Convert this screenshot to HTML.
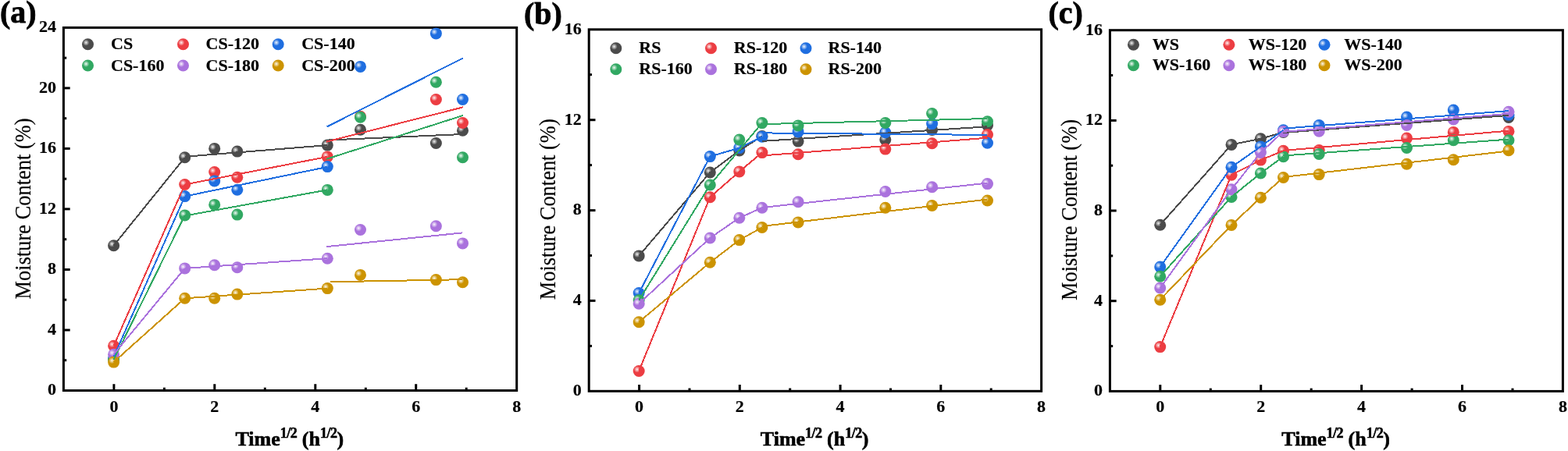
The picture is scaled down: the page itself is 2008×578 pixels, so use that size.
<!DOCTYPE html><html><head><meta charset="utf-8"><style>html,body{margin:0;padding:0;background:#fff;width:2008px;height:578px;overflow:hidden}svg{display:block}.tk{font-family:"Liberation Serif","Times New Roman",serif;font-weight:bold;font-size:22px;fill:#000;stroke:#000;stroke-width:0.2px}.lg{font-family:"Liberation Serif","Times New Roman",serif;font-weight:bold;font-size:22px;fill:#000;stroke:#000;stroke-width:0.2px}.yt{font-family:"Liberation Serif","Times New Roman",serif;font-size:28.5px;fill:#000;stroke:#000;stroke-width:0.15px}.xt{font-family:"Liberation Serif","Times New Roman",serif;font-weight:bold;font-size:26px;fill:#000;stroke:#000;stroke-width:0.6px}.pl{font-family:"Liberation Serif","Times New Roman",serif;font-weight:bold;font-size:40px;fill:#000;stroke:#000;stroke-width:0.8px}</style></head><body>
<svg width="2008" height="578" viewBox="0 0 2008 578">
<defs><radialGradient id="hl" cx="0.5" cy="0.5" r="0.5"><stop offset="0" stop-color="#fff" stop-opacity="0.95"/><stop offset="0.35" stop-color="#fff" stop-opacity="0.6"/><stop offset="1" stop-color="#fff" stop-opacity="0"/></radialGradient></defs>
<rect width="2008" height="578" fill="#fff"/>
<rect x="81.4" y="35.4" width="580.3" height="465.1" fill="none" stroke="#000" stroke-width="3"/>
<line x1="145.9" y1="500.5" x2="145.9" y2="492.2" stroke="#000" stroke-width="3"/>
<line x1="210.4" y1="500.5" x2="210.4" y2="496.7" stroke="#000" stroke-width="3"/>
<line x1="274.8" y1="500.5" x2="274.8" y2="492.2" stroke="#000" stroke-width="3"/>
<line x1="339.3" y1="500.5" x2="339.3" y2="496.7" stroke="#000" stroke-width="3"/>
<line x1="403.8" y1="500.5" x2="403.8" y2="492.2" stroke="#000" stroke-width="3"/>
<line x1="468.3" y1="500.5" x2="468.3" y2="496.7" stroke="#000" stroke-width="3"/>
<line x1="532.7" y1="500.5" x2="532.7" y2="492.2" stroke="#000" stroke-width="3"/>
<line x1="597.2" y1="500.5" x2="597.2" y2="496.7" stroke="#000" stroke-width="3"/>
<line x1="81.4" y1="461.7" x2="85.2" y2="461.7" stroke="#000" stroke-width="3"/>
<line x1="81.4" y1="423" x2="89.7" y2="423" stroke="#000" stroke-width="3"/>
<line x1="81.4" y1="384.2" x2="85.2" y2="384.2" stroke="#000" stroke-width="3"/>
<line x1="81.4" y1="345.5" x2="89.7" y2="345.5" stroke="#000" stroke-width="3"/>
<line x1="81.4" y1="306.7" x2="85.2" y2="306.7" stroke="#000" stroke-width="3"/>
<line x1="81.4" y1="267.9" x2="89.7" y2="267.9" stroke="#000" stroke-width="3"/>
<line x1="81.4" y1="229.2" x2="85.2" y2="229.2" stroke="#000" stroke-width="3"/>
<line x1="81.4" y1="190.4" x2="89.7" y2="190.4" stroke="#000" stroke-width="3"/>
<line x1="81.4" y1="151.7" x2="85.2" y2="151.7" stroke="#000" stroke-width="3"/>
<line x1="81.4" y1="112.9" x2="89.7" y2="112.9" stroke="#000" stroke-width="3"/>
<line x1="81.4" y1="74.2" x2="85.2" y2="74.2" stroke="#000" stroke-width="3"/>
<text x="145.9" y="528" text-anchor="middle" class="tk">0</text>
<text x="274.8" y="528" text-anchor="middle" class="tk">2</text>
<text x="403.8" y="528" text-anchor="middle" class="tk">4</text>
<text x="532.7" y="528" text-anchor="middle" class="tk">6</text>
<text x="661.7" y="528" text-anchor="middle" class="tk">8</text>
<text x="71.9" y="506.4" text-anchor="end" class="tk">0</text>
<text x="71.9" y="428.9" text-anchor="end" class="tk">4</text>
<text x="71.9" y="351.4" text-anchor="end" class="tk">8</text>
<text x="71.9" y="273.8" text-anchor="end" class="tk">12</text>
<text x="71.9" y="196.3" text-anchor="end" class="tk">16</text>
<text x="71.9" y="118.8" text-anchor="end" class="tk">20</text>
<text x="71.9" y="41.3" text-anchor="end" class="tk">24</text>
<circle cx="145.6" cy="314.7" r="7.5" fill="#4b4b4b"/><circle cx="143.3" cy="312.6" r="4.2" fill="url(#hl)"/>
<circle cx="236.7" cy="201.8" r="7.5" fill="#4b4b4b"/><circle cx="234.4" cy="199.7" r="4.2" fill="url(#hl)"/>
<circle cx="274.7" cy="190.4" r="7.5" fill="#4b4b4b"/><circle cx="272.4" cy="188.3" r="4.2" fill="url(#hl)"/>
<circle cx="303.8" cy="194.1" r="7.5" fill="#4b4b4b"/><circle cx="301.5" cy="192" r="4.2" fill="url(#hl)"/>
<circle cx="419.3" cy="186.1" r="7.5" fill="#4b4b4b"/><circle cx="417" cy="184" r="4.2" fill="url(#hl)"/>
<circle cx="461.5" cy="166.2" r="7.5" fill="#4b4b4b"/><circle cx="459.2" cy="164.1" r="4.2" fill="url(#hl)"/>
<circle cx="558.4" cy="183.5" r="7.5" fill="#4b4b4b"/><circle cx="556.1" cy="181.4" r="4.2" fill="url(#hl)"/>
<circle cx="592.5" cy="167.2" r="7.5" fill="#4b4b4b"/><circle cx="590.2" cy="165.1" r="4.2" fill="url(#hl)"/>
<circle cx="145.6" cy="443.3" r="7.5" fill="#ec3d42"/><circle cx="143.3" cy="441.2" r="4.2" fill="url(#hl)"/>
<circle cx="236.7" cy="236.5" r="7.5" fill="#ec3d42"/><circle cx="234.4" cy="234.4" r="4.2" fill="url(#hl)"/>
<circle cx="274.7" cy="220.5" r="7.5" fill="#ec3d42"/><circle cx="272.4" cy="218.4" r="4.2" fill="url(#hl)"/>
<circle cx="303.8" cy="227.3" r="7.5" fill="#ec3d42"/><circle cx="301.5" cy="225.2" r="4.2" fill="url(#hl)"/>
<circle cx="419.3" cy="200.9" r="7.5" fill="#ec3d42"/><circle cx="417" cy="198.8" r="4.2" fill="url(#hl)"/>
<circle cx="461.5" cy="149.3" r="7.5" fill="#ec3d42"/><circle cx="459.2" cy="147.2" r="4.2" fill="url(#hl)"/>
<circle cx="558.4" cy="127.5" r="7.5" fill="#ec3d42"/><circle cx="556.1" cy="125.4" r="4.2" fill="url(#hl)"/>
<circle cx="592.5" cy="157.5" r="7.5" fill="#ec3d42"/><circle cx="590.2" cy="155.4" r="4.2" fill="url(#hl)"/>
<circle cx="145.6" cy="459.5" r="7.5" fill="#1f6ee0"/><circle cx="143.3" cy="457.4" r="4.2" fill="url(#hl)"/>
<circle cx="236.7" cy="251.6" r="7.5" fill="#1f6ee0"/><circle cx="234.4" cy="249.5" r="4.2" fill="url(#hl)"/>
<circle cx="274.7" cy="231.9" r="7.5" fill="#1f6ee0"/><circle cx="272.4" cy="229.8" r="4.2" fill="url(#hl)"/>
<circle cx="303.8" cy="243.3" r="7.5" fill="#1f6ee0"/><circle cx="301.5" cy="241.2" r="4.2" fill="url(#hl)"/>
<circle cx="419.3" cy="213.6" r="7.5" fill="#1f6ee0"/><circle cx="417" cy="211.5" r="4.2" fill="url(#hl)"/>
<circle cx="461.5" cy="85.4" r="7.5" fill="#1f6ee0"/><circle cx="459.2" cy="83.3" r="4.2" fill="url(#hl)"/>
<circle cx="558.4" cy="42.9" r="7.5" fill="#1f6ee0"/><circle cx="556.1" cy="40.8" r="4.2" fill="url(#hl)"/>
<circle cx="592.5" cy="127.5" r="7.5" fill="#1f6ee0"/><circle cx="590.2" cy="125.4" r="4.2" fill="url(#hl)"/>
<circle cx="145.6" cy="461" r="7.5" fill="#31a862"/><circle cx="143.3" cy="458.9" r="4.2" fill="url(#hl)"/>
<circle cx="236.7" cy="275.9" r="7.5" fill="#31a862"/><circle cx="234.4" cy="273.8" r="4.2" fill="url(#hl)"/>
<circle cx="274.7" cy="262.4" r="7.5" fill="#31a862"/><circle cx="272.4" cy="260.3" r="4.2" fill="url(#hl)"/>
<circle cx="303.8" cy="275.1" r="7.5" fill="#31a862"/><circle cx="301.5" cy="273" r="4.2" fill="url(#hl)"/>
<circle cx="419.3" cy="243.4" r="7.5" fill="#31a862"/><circle cx="417" cy="241.3" r="4.2" fill="url(#hl)"/>
<circle cx="461.5" cy="150.2" r="7.5" fill="#31a862"/><circle cx="459.2" cy="148.1" r="4.2" fill="url(#hl)"/>
<circle cx="558.4" cy="105.3" r="7.5" fill="#31a862"/><circle cx="556.1" cy="103.2" r="4.2" fill="url(#hl)"/>
<circle cx="592.5" cy="201.7" r="7.5" fill="#31a862"/><circle cx="590.2" cy="199.6" r="4.2" fill="url(#hl)"/>
<circle cx="145.6" cy="454.2" r="7.5" fill="#aa72dd"/><circle cx="143.3" cy="452.1" r="4.2" fill="url(#hl)"/>
<circle cx="236.7" cy="343.9" r="7.5" fill="#aa72dd"/><circle cx="234.4" cy="341.8" r="4.2" fill="url(#hl)"/>
<circle cx="274.7" cy="339.7" r="7.5" fill="#aa72dd"/><circle cx="272.4" cy="337.6" r="4.2" fill="url(#hl)"/>
<circle cx="303.8" cy="342.8" r="7.5" fill="#aa72dd"/><circle cx="301.5" cy="340.7" r="4.2" fill="url(#hl)"/>
<circle cx="419.3" cy="331.2" r="7.5" fill="#aa72dd"/><circle cx="417" cy="329.1" r="4.2" fill="url(#hl)"/>
<circle cx="461.5" cy="294.5" r="7.5" fill="#aa72dd"/><circle cx="459.2" cy="292.4" r="4.2" fill="url(#hl)"/>
<circle cx="558.4" cy="289.7" r="7.5" fill="#aa72dd"/><circle cx="556.1" cy="287.6" r="4.2" fill="url(#hl)"/>
<circle cx="592.5" cy="311.9" r="7.5" fill="#aa72dd"/><circle cx="590.2" cy="309.8" r="4.2" fill="url(#hl)"/>
<circle cx="145.6" cy="464.1" r="7.5" fill="#cc9300"/><circle cx="143.3" cy="462" r="4.2" fill="url(#hl)"/>
<circle cx="236.7" cy="382.3" r="7.5" fill="#cc9300"/><circle cx="234.4" cy="380.2" r="4.2" fill="url(#hl)"/>
<circle cx="274.7" cy="382.3" r="7.5" fill="#cc9300"/><circle cx="272.4" cy="380.2" r="4.2" fill="url(#hl)"/>
<circle cx="303.8" cy="377.1" r="7.5" fill="#cc9300"/><circle cx="301.5" cy="375" r="4.2" fill="url(#hl)"/>
<circle cx="419.3" cy="369.6" r="7.5" fill="#cc9300"/><circle cx="417" cy="367.5" r="4.2" fill="url(#hl)"/>
<circle cx="461.5" cy="352.4" r="7.5" fill="#cc9300"/><circle cx="459.2" cy="350.3" r="4.2" fill="url(#hl)"/>
<circle cx="558.4" cy="358.6" r="7.5" fill="#cc9300"/><circle cx="556.1" cy="356.5" r="4.2" fill="url(#hl)"/>
<circle cx="592.5" cy="361.8" r="7.5" fill="#cc9300"/><circle cx="590.2" cy="359.7" r="4.2" fill="url(#hl)"/>
<polyline points="145.6,314.7 236.7,201.8" fill="none" stroke="#4b4b4b" stroke-width="2.0" stroke-linejoin="round" stroke-linecap="butt" shape-rendering="crispEdges"/>
<polyline points="236.7,200.8 419.2,186.1" fill="none" stroke="#4b4b4b" stroke-width="2.0" stroke-linejoin="round" stroke-linecap="butt" shape-rendering="crispEdges"/>
<polyline points="419.2,179.6 592.8,172" fill="none" stroke="#4b4b4b" stroke-width="2.0" stroke-linejoin="round" stroke-linecap="butt" shape-rendering="crispEdges"/>
<polyline points="145.6,443.3 236.7,236.5" fill="none" stroke="#ec3d42" stroke-width="2.0" stroke-linejoin="round" stroke-linecap="butt" shape-rendering="crispEdges"/>
<polyline points="236.7,236.5 419.2,200.9" fill="none" stroke="#ec3d42" stroke-width="2.0" stroke-linejoin="round" stroke-linecap="butt" shape-rendering="crispEdges"/>
<polyline points="418.2,181.6 592.8,137.4" fill="none" stroke="#ec3d42" stroke-width="2.0" stroke-linejoin="round" stroke-linecap="butt" shape-rendering="crispEdges"/>
<polyline points="145.6,457.5 236.7,251.6" fill="none" stroke="#1f6ee0" stroke-width="2.0" stroke-linejoin="round" stroke-linecap="butt" shape-rendering="crispEdges"/>
<polyline points="236.7,251.6 419.2,213.9" fill="none" stroke="#1f6ee0" stroke-width="2.0" stroke-linejoin="round" stroke-linecap="butt" shape-rendering="crispEdges"/>
<polyline points="418.7,162.4 592.8,74.5" fill="none" stroke="#1f6ee0" stroke-width="2.0" stroke-linejoin="round" stroke-linecap="butt" shape-rendering="crispEdges"/>
<polyline points="145.6,461 236.7,275.9" fill="none" stroke="#31a862" stroke-width="2.0" stroke-linejoin="round" stroke-linecap="butt" shape-rendering="crispEdges"/>
<polyline points="236.7,276.5 419.2,243.4" fill="none" stroke="#31a862" stroke-width="2.0" stroke-linejoin="round" stroke-linecap="butt" shape-rendering="crispEdges"/>
<polyline points="418.2,203.8 592.8,148" fill="none" stroke="#31a862" stroke-width="2.0" stroke-linejoin="round" stroke-linecap="butt" shape-rendering="crispEdges"/>
<polyline points="145.6,454.2 236.7,343.9" fill="none" stroke="#aa72dd" stroke-width="2.0" stroke-linejoin="round" stroke-linecap="butt" shape-rendering="crispEdges"/>
<polyline points="236.7,343.9 419.4,331.2" fill="none" stroke="#aa72dd" stroke-width="2.0" stroke-linejoin="round" stroke-linecap="butt" shape-rendering="crispEdges"/>
<polyline points="418.4,316.1 592.2,298.4" fill="none" stroke="#aa72dd" stroke-width="2.0" stroke-linejoin="round" stroke-linecap="butt" shape-rendering="crispEdges"/>
<polyline points="145.6,464.1 236.7,382.3" fill="none" stroke="#cc9300" stroke-width="2.0" stroke-linejoin="round" stroke-linecap="butt" shape-rendering="crispEdges"/>
<polyline points="236.7,382.3 419.4,369.6" fill="none" stroke="#cc9300" stroke-width="2.0" stroke-linejoin="round" stroke-linecap="butt" shape-rendering="crispEdges"/>
<polyline points="422.6,361.3 592.2,358.2" fill="none" stroke="#cc9300" stroke-width="2.0" stroke-linejoin="round" stroke-linecap="butt" shape-rendering="crispEdges"/>
<rect x="754.2" y="37.8" width="579.4" height="463.5" fill="none" stroke="#000" stroke-width="3"/>
<line x1="818.6" y1="501.3" x2="818.6" y2="493" stroke="#000" stroke-width="3"/>
<line x1="883" y1="501.3" x2="883" y2="497.5" stroke="#000" stroke-width="3"/>
<line x1="947.3" y1="501.3" x2="947.3" y2="493" stroke="#000" stroke-width="3"/>
<line x1="1011.7" y1="501.3" x2="1011.7" y2="497.5" stroke="#000" stroke-width="3"/>
<line x1="1076.1" y1="501.3" x2="1076.1" y2="493" stroke="#000" stroke-width="3"/>
<line x1="1140.5" y1="501.3" x2="1140.5" y2="497.5" stroke="#000" stroke-width="3"/>
<line x1="1204.8" y1="501.3" x2="1204.8" y2="493" stroke="#000" stroke-width="3"/>
<line x1="1269.2" y1="501.3" x2="1269.2" y2="497.5" stroke="#000" stroke-width="3"/>
<line x1="754.2" y1="443.4" x2="758" y2="443.4" stroke="#000" stroke-width="3"/>
<line x1="754.2" y1="385.4" x2="762.5" y2="385.4" stroke="#000" stroke-width="3"/>
<line x1="754.2" y1="327.5" x2="758" y2="327.5" stroke="#000" stroke-width="3"/>
<line x1="754.2" y1="269.6" x2="762.5" y2="269.6" stroke="#000" stroke-width="3"/>
<line x1="754.2" y1="211.6" x2="758" y2="211.6" stroke="#000" stroke-width="3"/>
<line x1="754.2" y1="153.7" x2="762.5" y2="153.7" stroke="#000" stroke-width="3"/>
<line x1="754.2" y1="95.7" x2="758" y2="95.7" stroke="#000" stroke-width="3"/>
<text x="818.6" y="528" text-anchor="middle" class="tk">0</text>
<text x="947.3" y="528" text-anchor="middle" class="tk">2</text>
<text x="1076.1" y="528" text-anchor="middle" class="tk">4</text>
<text x="1204.8" y="528" text-anchor="middle" class="tk">6</text>
<text x="1333.6" y="528" text-anchor="middle" class="tk">8</text>
<text x="744.7" y="507.2" text-anchor="end" class="tk">0</text>
<text x="744.7" y="391.3" text-anchor="end" class="tk">4</text>
<text x="744.7" y="275.4" text-anchor="end" class="tk">8</text>
<text x="744.7" y="159.6" text-anchor="end" class="tk">12</text>
<text x="744.7" y="43.7" text-anchor="end" class="tk">16</text>
<circle cx="818.2" cy="327.9" r="7.5" fill="#4b4b4b"/><circle cx="815.9" cy="325.8" r="4.2" fill="url(#hl)"/>
<circle cx="909.3" cy="221" r="7.5" fill="#4b4b4b"/><circle cx="907" cy="218.9" r="4.2" fill="url(#hl)"/>
<circle cx="946.8" cy="193" r="7.5" fill="#4b4b4b"/><circle cx="944.5" cy="190.9" r="4.2" fill="url(#hl)"/>
<circle cx="975.9" cy="174.5" r="7.5" fill="#4b4b4b"/><circle cx="973.6" cy="172.4" r="4.2" fill="url(#hl)"/>
<circle cx="1022.1" cy="181.1" r="7.5" fill="#4b4b4b"/><circle cx="1019.8" cy="179" r="4.2" fill="url(#hl)"/>
<circle cx="1133.8" cy="179" r="7.5" fill="#4b4b4b"/><circle cx="1131.5" cy="176.9" r="4.2" fill="url(#hl)"/>
<circle cx="1193.6" cy="166.4" r="7.5" fill="#4b4b4b"/><circle cx="1191.3" cy="164.3" r="4.2" fill="url(#hl)"/>
<circle cx="1264.5" cy="160.6" r="7.5" fill="#4b4b4b"/><circle cx="1262.2" cy="158.5" r="4.2" fill="url(#hl)"/>
<circle cx="818.2" cy="475.5" r="7.5" fill="#ec3d42"/><circle cx="815.9" cy="473.4" r="4.2" fill="url(#hl)"/>
<circle cx="909.3" cy="252.7" r="7.5" fill="#ec3d42"/><circle cx="907" cy="250.6" r="4.2" fill="url(#hl)"/>
<circle cx="946.8" cy="219.9" r="7.5" fill="#ec3d42"/><circle cx="944.5" cy="217.8" r="4.2" fill="url(#hl)"/>
<circle cx="975.9" cy="195.6" r="7.5" fill="#ec3d42"/><circle cx="973.6" cy="193.5" r="4.2" fill="url(#hl)"/>
<circle cx="1022.1" cy="197.7" r="7.5" fill="#ec3d42"/><circle cx="1019.8" cy="195.6" r="4.2" fill="url(#hl)"/>
<circle cx="1133.8" cy="191.1" r="7.5" fill="#ec3d42"/><circle cx="1131.5" cy="189" r="4.2" fill="url(#hl)"/>
<circle cx="1193.6" cy="183.8" r="7.5" fill="#ec3d42"/><circle cx="1191.3" cy="181.7" r="4.2" fill="url(#hl)"/>
<circle cx="1264.5" cy="172.6" r="7.5" fill="#ec3d42"/><circle cx="1262.2" cy="170.5" r="4.2" fill="url(#hl)"/>
<circle cx="818.2" cy="375.6" r="7.5" fill="#1f6ee0"/><circle cx="815.9" cy="373.5" r="4.2" fill="url(#hl)"/>
<circle cx="909.3" cy="200.6" r="7.5" fill="#1f6ee0"/><circle cx="907" cy="198.5" r="4.2" fill="url(#hl)"/>
<circle cx="946.8" cy="189.6" r="7.5" fill="#1f6ee0"/><circle cx="944.5" cy="187.5" r="4.2" fill="url(#hl)"/>
<circle cx="975.9" cy="175.3" r="7.5" fill="#1f6ee0"/><circle cx="973.6" cy="173.2" r="4.2" fill="url(#hl)"/>
<circle cx="1022.1" cy="168.9" r="7.5" fill="#1f6ee0"/><circle cx="1019.8" cy="166.8" r="4.2" fill="url(#hl)"/>
<circle cx="1133.8" cy="169.8" r="7.5" fill="#1f6ee0"/><circle cx="1131.5" cy="167.7" r="4.2" fill="url(#hl)"/>
<circle cx="1193.6" cy="158.6" r="7.5" fill="#1f6ee0"/><circle cx="1191.3" cy="156.5" r="4.2" fill="url(#hl)"/>
<circle cx="1264.5" cy="183.3" r="7.5" fill="#1f6ee0"/><circle cx="1262.2" cy="181.2" r="4.2" fill="url(#hl)"/>
<circle cx="818.2" cy="384.8" r="7.5" fill="#31a862"/><circle cx="815.9" cy="382.7" r="4.2" fill="url(#hl)"/>
<circle cx="909.3" cy="237" r="7.5" fill="#31a862"/><circle cx="907" cy="234.9" r="4.2" fill="url(#hl)"/>
<circle cx="946.8" cy="179" r="7.5" fill="#31a862"/><circle cx="944.5" cy="176.9" r="4.2" fill="url(#hl)"/>
<circle cx="975.9" cy="157.6" r="7.5" fill="#31a862"/><circle cx="973.6" cy="155.5" r="4.2" fill="url(#hl)"/>
<circle cx="1022.1" cy="160.9" r="7.5" fill="#31a862"/><circle cx="1019.8" cy="158.8" r="4.2" fill="url(#hl)"/>
<circle cx="1133.8" cy="157.5" r="7.5" fill="#31a862"/><circle cx="1131.5" cy="155.4" r="4.2" fill="url(#hl)"/>
<circle cx="1193.6" cy="145.5" r="7.5" fill="#31a862"/><circle cx="1191.3" cy="143.4" r="4.2" fill="url(#hl)"/>
<circle cx="1264.5" cy="155.7" r="7.5" fill="#31a862"/><circle cx="1262.2" cy="153.6" r="4.2" fill="url(#hl)"/>
<circle cx="818.2" cy="389.2" r="7.5" fill="#aa72dd"/><circle cx="815.9" cy="387.1" r="4.2" fill="url(#hl)"/>
<circle cx="909.3" cy="305" r="7.5" fill="#aa72dd"/><circle cx="907" cy="302.9" r="4.2" fill="url(#hl)"/>
<circle cx="946.8" cy="279.2" r="7.5" fill="#aa72dd"/><circle cx="944.5" cy="277.1" r="4.2" fill="url(#hl)"/>
<circle cx="975.9" cy="266.2" r="7.5" fill="#aa72dd"/><circle cx="973.6" cy="264.1" r="4.2" fill="url(#hl)"/>
<circle cx="1022.1" cy="258.8" r="7.5" fill="#aa72dd"/><circle cx="1019.8" cy="256.7" r="4.2" fill="url(#hl)"/>
<circle cx="1133.8" cy="245.5" r="7.5" fill="#aa72dd"/><circle cx="1131.5" cy="243.4" r="4.2" fill="url(#hl)"/>
<circle cx="1193.6" cy="239.7" r="7.5" fill="#aa72dd"/><circle cx="1191.3" cy="237.6" r="4.2" fill="url(#hl)"/>
<circle cx="1264.5" cy="235.6" r="7.5" fill="#aa72dd"/><circle cx="1262.2" cy="233.5" r="4.2" fill="url(#hl)"/>
<circle cx="818.2" cy="412.7" r="7.5" fill="#cc9300"/><circle cx="815.9" cy="410.6" r="4.2" fill="url(#hl)"/>
<circle cx="909.3" cy="336.3" r="7.5" fill="#cc9300"/><circle cx="907" cy="334.2" r="4.2" fill="url(#hl)"/>
<circle cx="946.8" cy="307.6" r="7.5" fill="#cc9300"/><circle cx="944.5" cy="305.5" r="4.2" fill="url(#hl)"/>
<circle cx="975.9" cy="291.5" r="7.5" fill="#cc9300"/><circle cx="973.6" cy="289.4" r="4.2" fill="url(#hl)"/>
<circle cx="1022.1" cy="284.9" r="7.5" fill="#cc9300"/><circle cx="1019.8" cy="282.8" r="4.2" fill="url(#hl)"/>
<circle cx="1133.8" cy="266.3" r="7.5" fill="#cc9300"/><circle cx="1131.5" cy="264.2" r="4.2" fill="url(#hl)"/>
<circle cx="1193.6" cy="263.5" r="7.5" fill="#cc9300"/><circle cx="1191.3" cy="261.4" r="4.2" fill="url(#hl)"/>
<circle cx="1264.5" cy="257" r="7.5" fill="#cc9300"/><circle cx="1262.2" cy="254.9" r="4.2" fill="url(#hl)"/>
<polyline points="818.2,327.9 909.3,221 946.8,193 975.9,174.5" fill="none" stroke="#4b4b4b" stroke-width="2.0" stroke-linejoin="round" stroke-linecap="butt" shape-rendering="crispEdges"/>
<polyline points="975.9,180.9 1264.5,162.3" fill="none" stroke="#4b4b4b" stroke-width="2.0" stroke-linejoin="round" stroke-linecap="butt" shape-rendering="crispEdges"/>
<polyline points="818.2,475.5 909.3,252.7 946.8,219.9 975.9,195.6" fill="none" stroke="#ec3d42" stroke-width="2.0" stroke-linejoin="round" stroke-linecap="butt" shape-rendering="crispEdges"/>
<polyline points="975.9,199.5 1264.5,176.7" fill="none" stroke="#ec3d42" stroke-width="2.0" stroke-linejoin="round" stroke-linecap="butt" shape-rendering="crispEdges"/>
<polyline points="818.2,375.6 909.3,200.6 946.8,189.6 975.9,175.3" fill="none" stroke="#1f6ee0" stroke-width="2.0" stroke-linejoin="round" stroke-linecap="butt" shape-rendering="crispEdges"/>
<polyline points="975.9,170.4 1264.5,172.9" fill="none" stroke="#1f6ee0" stroke-width="2.0" stroke-linejoin="round" stroke-linecap="butt" shape-rendering="crispEdges"/>
<polyline points="818.2,384.8 909.3,237 975.9,157.6" fill="none" stroke="#31a862" stroke-width="2.0" stroke-linejoin="round" stroke-linecap="butt" shape-rendering="crispEdges"/>
<polyline points="975.9,159.1 1264.5,152" fill="none" stroke="#31a862" stroke-width="2.0" stroke-linejoin="round" stroke-linecap="butt" shape-rendering="crispEdges"/>
<polyline points="818.2,389.2 909.3,305 946.8,279.2 975.9,266.2" fill="none" stroke="#aa72dd" stroke-width="2.0" stroke-linejoin="round" stroke-linecap="butt" shape-rendering="crispEdges"/>
<polyline points="975.9,266 1264.5,234.6" fill="none" stroke="#aa72dd" stroke-width="2.0" stroke-linejoin="round" stroke-linecap="butt" shape-rendering="crispEdges"/>
<polyline points="818.2,412.7 909.3,336.3 946.8,307.6 975.9,291.5" fill="none" stroke="#cc9300" stroke-width="2.0" stroke-linejoin="round" stroke-linecap="butt" shape-rendering="crispEdges"/>
<polyline points="975.9,290 1264.5,255.5" fill="none" stroke="#cc9300" stroke-width="2.0" stroke-linejoin="round" stroke-linecap="butt" shape-rendering="crispEdges"/>
<rect x="1421.4" y="38.7" width="580" height="462.7" fill="none" stroke="#000" stroke-width="3"/>
<line x1="1485.8" y1="501.4" x2="1485.8" y2="493.1" stroke="#000" stroke-width="3"/>
<line x1="1550.3" y1="501.4" x2="1550.3" y2="497.6" stroke="#000" stroke-width="3"/>
<line x1="1614.7" y1="501.4" x2="1614.7" y2="493.1" stroke="#000" stroke-width="3"/>
<line x1="1679.2" y1="501.4" x2="1679.2" y2="497.6" stroke="#000" stroke-width="3"/>
<line x1="1743.6" y1="501.4" x2="1743.6" y2="493.1" stroke="#000" stroke-width="3"/>
<line x1="1808.1" y1="501.4" x2="1808.1" y2="497.6" stroke="#000" stroke-width="3"/>
<line x1="1872.5" y1="501.4" x2="1872.5" y2="493.1" stroke="#000" stroke-width="3"/>
<line x1="1937" y1="501.4" x2="1937" y2="497.6" stroke="#000" stroke-width="3"/>
<line x1="1421.4" y1="443.6" x2="1425.2" y2="443.6" stroke="#000" stroke-width="3"/>
<line x1="1421.4" y1="385.7" x2="1429.7" y2="385.7" stroke="#000" stroke-width="3"/>
<line x1="1421.4" y1="327.9" x2="1425.2" y2="327.9" stroke="#000" stroke-width="3"/>
<line x1="1421.4" y1="270" x2="1429.7" y2="270" stroke="#000" stroke-width="3"/>
<line x1="1421.4" y1="212.2" x2="1425.2" y2="212.2" stroke="#000" stroke-width="3"/>
<line x1="1421.4" y1="154.4" x2="1429.7" y2="154.4" stroke="#000" stroke-width="3"/>
<line x1="1421.4" y1="96.5" x2="1425.2" y2="96.5" stroke="#000" stroke-width="3"/>
<text x="1485.8" y="528" text-anchor="middle" class="tk">0</text>
<text x="1614.7" y="528" text-anchor="middle" class="tk">2</text>
<text x="1743.6" y="528" text-anchor="middle" class="tk">4</text>
<text x="1872.5" y="528" text-anchor="middle" class="tk">6</text>
<text x="2001.4" y="528" text-anchor="middle" class="tk">8</text>
<text x="1411.9" y="507.3" text-anchor="end" class="tk">0</text>
<text x="1411.9" y="391.6" text-anchor="end" class="tk">4</text>
<text x="1411.9" y="275.9" text-anchor="end" class="tk">8</text>
<text x="1411.9" y="160.3" text-anchor="end" class="tk">12</text>
<text x="1411.9" y="44.6" text-anchor="end" class="tk">16</text>
<circle cx="1485.7" cy="288.3" r="7.5" fill="#4b4b4b"/><circle cx="1483.4" cy="286.2" r="4.2" fill="url(#hl)"/>
<circle cx="1577" cy="185.4" r="7.5" fill="#4b4b4b"/><circle cx="1574.7" cy="183.3" r="4.2" fill="url(#hl)"/>
<circle cx="1614.4" cy="177.8" r="7.5" fill="#4b4b4b"/><circle cx="1612.1" cy="175.7" r="4.2" fill="url(#hl)"/>
<circle cx="1643.5" cy="169.5" r="7.5" fill="#4b4b4b"/><circle cx="1641.2" cy="167.4" r="4.2" fill="url(#hl)"/>
<circle cx="1689.2" cy="163" r="7.5" fill="#4b4b4b"/><circle cx="1686.9" cy="160.9" r="4.2" fill="url(#hl)"/>
<circle cx="1801.5" cy="157" r="7.5" fill="#4b4b4b"/><circle cx="1799.2" cy="154.9" r="4.2" fill="url(#hl)"/>
<circle cx="1861.3" cy="152" r="7.5" fill="#4b4b4b"/><circle cx="1859" cy="149.9" r="4.2" fill="url(#hl)"/>
<circle cx="1932" cy="150.4" r="7.5" fill="#4b4b4b"/><circle cx="1929.7" cy="148.3" r="4.2" fill="url(#hl)"/>
<circle cx="1485.7" cy="444.6" r="7.5" fill="#ec3d42"/><circle cx="1483.4" cy="442.5" r="4.2" fill="url(#hl)"/>
<circle cx="1577" cy="224.2" r="7.5" fill="#ec3d42"/><circle cx="1574.7" cy="222.1" r="4.2" fill="url(#hl)"/>
<circle cx="1614.4" cy="205.1" r="7.5" fill="#ec3d42"/><circle cx="1612.1" cy="203" r="4.2" fill="url(#hl)"/>
<circle cx="1643.5" cy="193.3" r="7.5" fill="#ec3d42"/><circle cx="1641.2" cy="191.2" r="4.2" fill="url(#hl)"/>
<circle cx="1689.2" cy="192.6" r="7.5" fill="#ec3d42"/><circle cx="1686.9" cy="190.5" r="4.2" fill="url(#hl)"/>
<circle cx="1801.5" cy="177.1" r="7.5" fill="#ec3d42"/><circle cx="1799.2" cy="175" r="4.2" fill="url(#hl)"/>
<circle cx="1861.3" cy="169.4" r="7.5" fill="#ec3d42"/><circle cx="1859" cy="167.3" r="4.2" fill="url(#hl)"/>
<circle cx="1932" cy="168.4" r="7.5" fill="#ec3d42"/><circle cx="1929.7" cy="166.3" r="4.2" fill="url(#hl)"/>
<circle cx="1485.7" cy="342.1" r="7.5" fill="#1f6ee0"/><circle cx="1483.4" cy="340" r="4.2" fill="url(#hl)"/>
<circle cx="1577" cy="214.2" r="7.5" fill="#1f6ee0"/><circle cx="1574.7" cy="212.1" r="4.2" fill="url(#hl)"/>
<circle cx="1614.4" cy="187.9" r="7.5" fill="#1f6ee0"/><circle cx="1612.1" cy="185.8" r="4.2" fill="url(#hl)"/>
<circle cx="1643.5" cy="166.7" r="7.5" fill="#1f6ee0"/><circle cx="1641.2" cy="164.6" r="4.2" fill="url(#hl)"/>
<circle cx="1689.2" cy="160.5" r="7.5" fill="#1f6ee0"/><circle cx="1686.9" cy="158.4" r="4.2" fill="url(#hl)"/>
<circle cx="1801.5" cy="150.1" r="7.5" fill="#1f6ee0"/><circle cx="1799.2" cy="148" r="4.2" fill="url(#hl)"/>
<circle cx="1861.3" cy="141" r="7.5" fill="#1f6ee0"/><circle cx="1859" cy="138.9" r="4.2" fill="url(#hl)"/>
<circle cx="1932" cy="147.3" r="7.5" fill="#1f6ee0"/><circle cx="1929.7" cy="145.2" r="4.2" fill="url(#hl)"/>
<circle cx="1485.7" cy="354.2" r="7.5" fill="#31a862"/><circle cx="1483.4" cy="352.1" r="4.2" fill="url(#hl)"/>
<circle cx="1577" cy="252.4" r="7.5" fill="#31a862"/><circle cx="1574.7" cy="250.3" r="4.2" fill="url(#hl)"/>
<circle cx="1614.4" cy="222" r="7.5" fill="#31a862"/><circle cx="1612.1" cy="219.9" r="4.2" fill="url(#hl)"/>
<circle cx="1643.5" cy="200.7" r="7.5" fill="#31a862"/><circle cx="1641.2" cy="198.6" r="4.2" fill="url(#hl)"/>
<circle cx="1689.2" cy="197.5" r="7.5" fill="#31a862"/><circle cx="1686.9" cy="195.4" r="4.2" fill="url(#hl)"/>
<circle cx="1801.5" cy="189.5" r="7.5" fill="#31a862"/><circle cx="1799.2" cy="187.4" r="4.2" fill="url(#hl)"/>
<circle cx="1861.3" cy="179.8" r="7.5" fill="#31a862"/><circle cx="1859" cy="177.7" r="4.2" fill="url(#hl)"/>
<circle cx="1932" cy="179.8" r="7.5" fill="#31a862"/><circle cx="1929.7" cy="177.7" r="4.2" fill="url(#hl)"/>
<circle cx="1485.7" cy="369" r="7.5" fill="#aa72dd"/><circle cx="1483.4" cy="366.9" r="4.2" fill="url(#hl)"/>
<circle cx="1577" cy="242.7" r="7.5" fill="#aa72dd"/><circle cx="1574.7" cy="240.6" r="4.2" fill="url(#hl)"/>
<circle cx="1614.4" cy="195.5" r="7.5" fill="#aa72dd"/><circle cx="1612.1" cy="193.4" r="4.2" fill="url(#hl)"/>
<circle cx="1643.5" cy="168.6" r="7.5" fill="#aa72dd"/><circle cx="1641.2" cy="166.5" r="4.2" fill="url(#hl)"/>
<circle cx="1689.2" cy="168.3" r="7.5" fill="#aa72dd"/><circle cx="1686.9" cy="166.2" r="4.2" fill="url(#hl)"/>
<circle cx="1801.5" cy="160.5" r="7.5" fill="#aa72dd"/><circle cx="1799.2" cy="158.4" r="4.2" fill="url(#hl)"/>
<circle cx="1861.3" cy="152.9" r="7.5" fill="#aa72dd"/><circle cx="1859" cy="150.8" r="4.2" fill="url(#hl)"/>
<circle cx="1932" cy="143.3" r="7.5" fill="#aa72dd"/><circle cx="1929.7" cy="141.2" r="4.2" fill="url(#hl)"/>
<circle cx="1485.7" cy="384.2" r="7.5" fill="#cc9300"/><circle cx="1483.4" cy="382.1" r="4.2" fill="url(#hl)"/>
<circle cx="1577" cy="288.4" r="7.5" fill="#cc9300"/><circle cx="1574.7" cy="286.3" r="4.2" fill="url(#hl)"/>
<circle cx="1614.4" cy="253.3" r="7.5" fill="#cc9300"/><circle cx="1612.1" cy="251.2" r="4.2" fill="url(#hl)"/>
<circle cx="1643.5" cy="227.5" r="7.5" fill="#cc9300"/><circle cx="1641.2" cy="225.4" r="4.2" fill="url(#hl)"/>
<circle cx="1689.2" cy="223.6" r="7.5" fill="#cc9300"/><circle cx="1686.9" cy="221.5" r="4.2" fill="url(#hl)"/>
<circle cx="1801.5" cy="210.3" r="7.5" fill="#cc9300"/><circle cx="1799.2" cy="208.2" r="4.2" fill="url(#hl)"/>
<circle cx="1861.3" cy="204.7" r="7.5" fill="#cc9300"/><circle cx="1859" cy="202.6" r="4.2" fill="url(#hl)"/>
<circle cx="1932" cy="192.7" r="7.5" fill="#cc9300"/><circle cx="1929.7" cy="190.6" r="4.2" fill="url(#hl)"/>
<polyline points="1485.7,288.3 1577,185.4 1614.4,177.8 1643.5,169.5" fill="none" stroke="#4b4b4b" stroke-width="2.0" stroke-linejoin="round" stroke-linecap="butt" shape-rendering="crispEdges"/>
<polyline points="1643.5,170 1932,147.9" fill="none" stroke="#4b4b4b" stroke-width="2.0" stroke-linejoin="round" stroke-linecap="butt" shape-rendering="crispEdges"/>
<polyline points="1485.7,444.6 1577,224.2 1614.4,205.1 1643.5,193.3" fill="none" stroke="#ec3d42" stroke-width="2.0" stroke-linejoin="round" stroke-linecap="butt" shape-rendering="crispEdges"/>
<polyline points="1643.5,193 1932,167.6" fill="none" stroke="#ec3d42" stroke-width="2.0" stroke-linejoin="round" stroke-linecap="butt" shape-rendering="crispEdges"/>
<polyline points="1485.7,342.1 1577,214.2 1614.4,187.9 1643.5,166.7" fill="none" stroke="#1f6ee0" stroke-width="2.0" stroke-linejoin="round" stroke-linecap="butt" shape-rendering="crispEdges"/>
<polyline points="1643.5,164.7 1932,142.1" fill="none" stroke="#1f6ee0" stroke-width="2.0" stroke-linejoin="round" stroke-linecap="butt" shape-rendering="crispEdges"/>
<polyline points="1485.7,354.2 1577,252.4 1614.4,222 1643.5,200.7" fill="none" stroke="#31a862" stroke-width="2.0" stroke-linejoin="round" stroke-linecap="butt" shape-rendering="crispEdges"/>
<polyline points="1643.5,199.5 1932,178.6" fill="none" stroke="#31a862" stroke-width="2.0" stroke-linejoin="round" stroke-linecap="butt" shape-rendering="crispEdges"/>
<polyline points="1485.7,369 1577,242.7 1614.4,195.5 1643.5,168.6" fill="none" stroke="#aa72dd" stroke-width="2.0" stroke-linejoin="round" stroke-linecap="butt" shape-rendering="crispEdges"/>
<polyline points="1643.5,168.9 1932,145.8" fill="none" stroke="#aa72dd" stroke-width="2.0" stroke-linejoin="round" stroke-linecap="butt" shape-rendering="crispEdges"/>
<polyline points="1485.7,384.2 1577,288.4 1614.4,253.3 1643.5,227.5" fill="none" stroke="#cc9300" stroke-width="2.0" stroke-linejoin="round" stroke-linecap="butt" shape-rendering="crispEdges"/>
<polyline points="1643.5,227 1932,193.5" fill="none" stroke="#cc9300" stroke-width="2.0" stroke-linejoin="round" stroke-linecap="butt" shape-rendering="crispEdges"/>
<circle cx="112.5" cy="56.7" r="7.5" fill="#4b4b4b"/><circle cx="110.2" cy="54.6" r="4.2" fill="url(#hl)"/>
<text x="142" y="63.3" class="lg">CS</text>
<circle cx="234.5" cy="56.7" r="7.5" fill="#ec3d42"/><circle cx="232.2" cy="54.6" r="4.2" fill="url(#hl)"/>
<text x="263.6" y="63.3" class="lg">CS-120</text>
<circle cx="356.2" cy="56.7" r="7.5" fill="#1f6ee0"/><circle cx="353.9" cy="54.6" r="4.2" fill="url(#hl)"/>
<text x="386.2" y="63.3" class="lg">CS-140</text>
<circle cx="112.5" cy="84" r="7.5" fill="#31a862"/><circle cx="110.2" cy="81.9" r="4.2" fill="url(#hl)"/>
<text x="142" y="90.6" class="lg">CS-160</text>
<circle cx="234.5" cy="84" r="7.5" fill="#aa72dd"/><circle cx="232.2" cy="81.9" r="4.2" fill="url(#hl)"/>
<text x="263.6" y="90.6" class="lg">CS-180</text>
<circle cx="356.2" cy="84" r="7.5" fill="#cc9300"/><circle cx="353.9" cy="81.9" r="4.2" fill="url(#hl)"/>
<text x="386.2" y="90.6" class="lg">CS-200</text>
<circle cx="788.8" cy="61.8" r="7.5" fill="#4b4b4b"/><circle cx="786.5" cy="59.7" r="4.2" fill="url(#hl)"/>
<text x="818.3" y="68.4" class="lg">RS</text>
<circle cx="910.5" cy="61.8" r="7.5" fill="#ec3d42"/><circle cx="908.2" cy="59.7" r="4.2" fill="url(#hl)"/>
<text x="939.8" y="68.4" class="lg">RS-120</text>
<circle cx="1032" cy="61.8" r="7.5" fill="#1f6ee0"/><circle cx="1029.7" cy="59.7" r="4.2" fill="url(#hl)"/>
<text x="1060.5" y="68.4" class="lg">RS-140</text>
<circle cx="788.8" cy="88.8" r="7.5" fill="#31a862"/><circle cx="786.5" cy="86.7" r="4.2" fill="url(#hl)"/>
<text x="818.3" y="95.4" class="lg">RS-160</text>
<circle cx="910.5" cy="88.8" r="7.5" fill="#aa72dd"/><circle cx="908.2" cy="86.7" r="4.2" fill="url(#hl)"/>
<text x="939.8" y="95.4" class="lg">RS-180</text>
<circle cx="1032" cy="88.8" r="7.5" fill="#cc9300"/><circle cx="1029.7" cy="86.7" r="4.2" fill="url(#hl)"/>
<text x="1060.5" y="95.4" class="lg">RS-200</text>
<circle cx="1451.5" cy="57.3" r="7.5" fill="#4b4b4b"/><circle cx="1449.2" cy="55.2" r="4.2" fill="url(#hl)"/>
<text x="1475.7" y="63.9" class="lg">WS</text>
<circle cx="1573.9" cy="57.3" r="7.5" fill="#ec3d42"/><circle cx="1571.6" cy="55.2" r="4.2" fill="url(#hl)"/>
<text x="1598.7" y="63.9" class="lg">WS-120</text>
<circle cx="1696" cy="57.3" r="7.5" fill="#1f6ee0"/><circle cx="1693.7" cy="55.2" r="4.2" fill="url(#hl)"/>
<text x="1721.2" y="63.9" class="lg">WS-140</text>
<circle cx="1451.5" cy="83.8" r="7.5" fill="#31a862"/><circle cx="1449.2" cy="81.7" r="4.2" fill="url(#hl)"/>
<text x="1475.7" y="90.4" class="lg">WS-160</text>
<circle cx="1573.9" cy="83.8" r="7.5" fill="#aa72dd"/><circle cx="1571.6" cy="81.7" r="4.2" fill="url(#hl)"/>
<text x="1598.7" y="90.4" class="lg">WS-180</text>
<circle cx="1696" cy="83.8" r="7.5" fill="#cc9300"/><circle cx="1693.7" cy="81.7" r="4.2" fill="url(#hl)"/>
<text x="1721.2" y="90.4" class="lg">WS-200</text>
<text x="370.8" y="570.7" text-anchor="middle" class="xt">Time<tspan font-size="18" dy="-9.8" letter-spacing="-0.5">1/2</tspan><tspan dy="9.8"> (h</tspan><tspan font-size="18" dy="-9.8" letter-spacing="-0.5">1/2</tspan><tspan dy="9.8">)</tspan></text>
<text x="1043.1" y="570.7" text-anchor="middle" class="xt">Time<tspan font-size="18" dy="-9.8" letter-spacing="-0.5">1/2</tspan><tspan dy="9.8"> (h</tspan><tspan font-size="18" dy="-9.8" letter-spacing="-0.5">1/2</tspan><tspan dy="9.8">)</tspan></text>
<text x="1710.6" y="570.7" text-anchor="middle" class="xt">Time<tspan font-size="18" dy="-9.8" letter-spacing="-0.5">1/2</tspan><tspan dy="9.8"> (h</tspan><tspan font-size="18" dy="-9.8" letter-spacing="-0.5">1/2</tspan><tspan dy="9.8">)</tspan></text>
<text transform="translate(38.5,267.4) rotate(-90)" x="-116" textLength="232" lengthAdjust="spacingAndGlyphs" class="yt">Moisture Content (%)</text>
<text transform="translate(711.4,268.3) rotate(-90)" x="-116" textLength="232" lengthAdjust="spacingAndGlyphs" class="yt">Moisture Content (%)</text>
<text transform="translate(1378.8,269) rotate(-90)" x="-116" textLength="232" lengthAdjust="spacingAndGlyphs" class="yt">Moisture Content (%)</text>
<text x="0" y="29.2" class="pl">(a)</text>
<text x="671" y="31" class="pl">(b)</text>
<text x="1342.5" y="29.5" class="pl">(c)</text>
</svg></body></html>
